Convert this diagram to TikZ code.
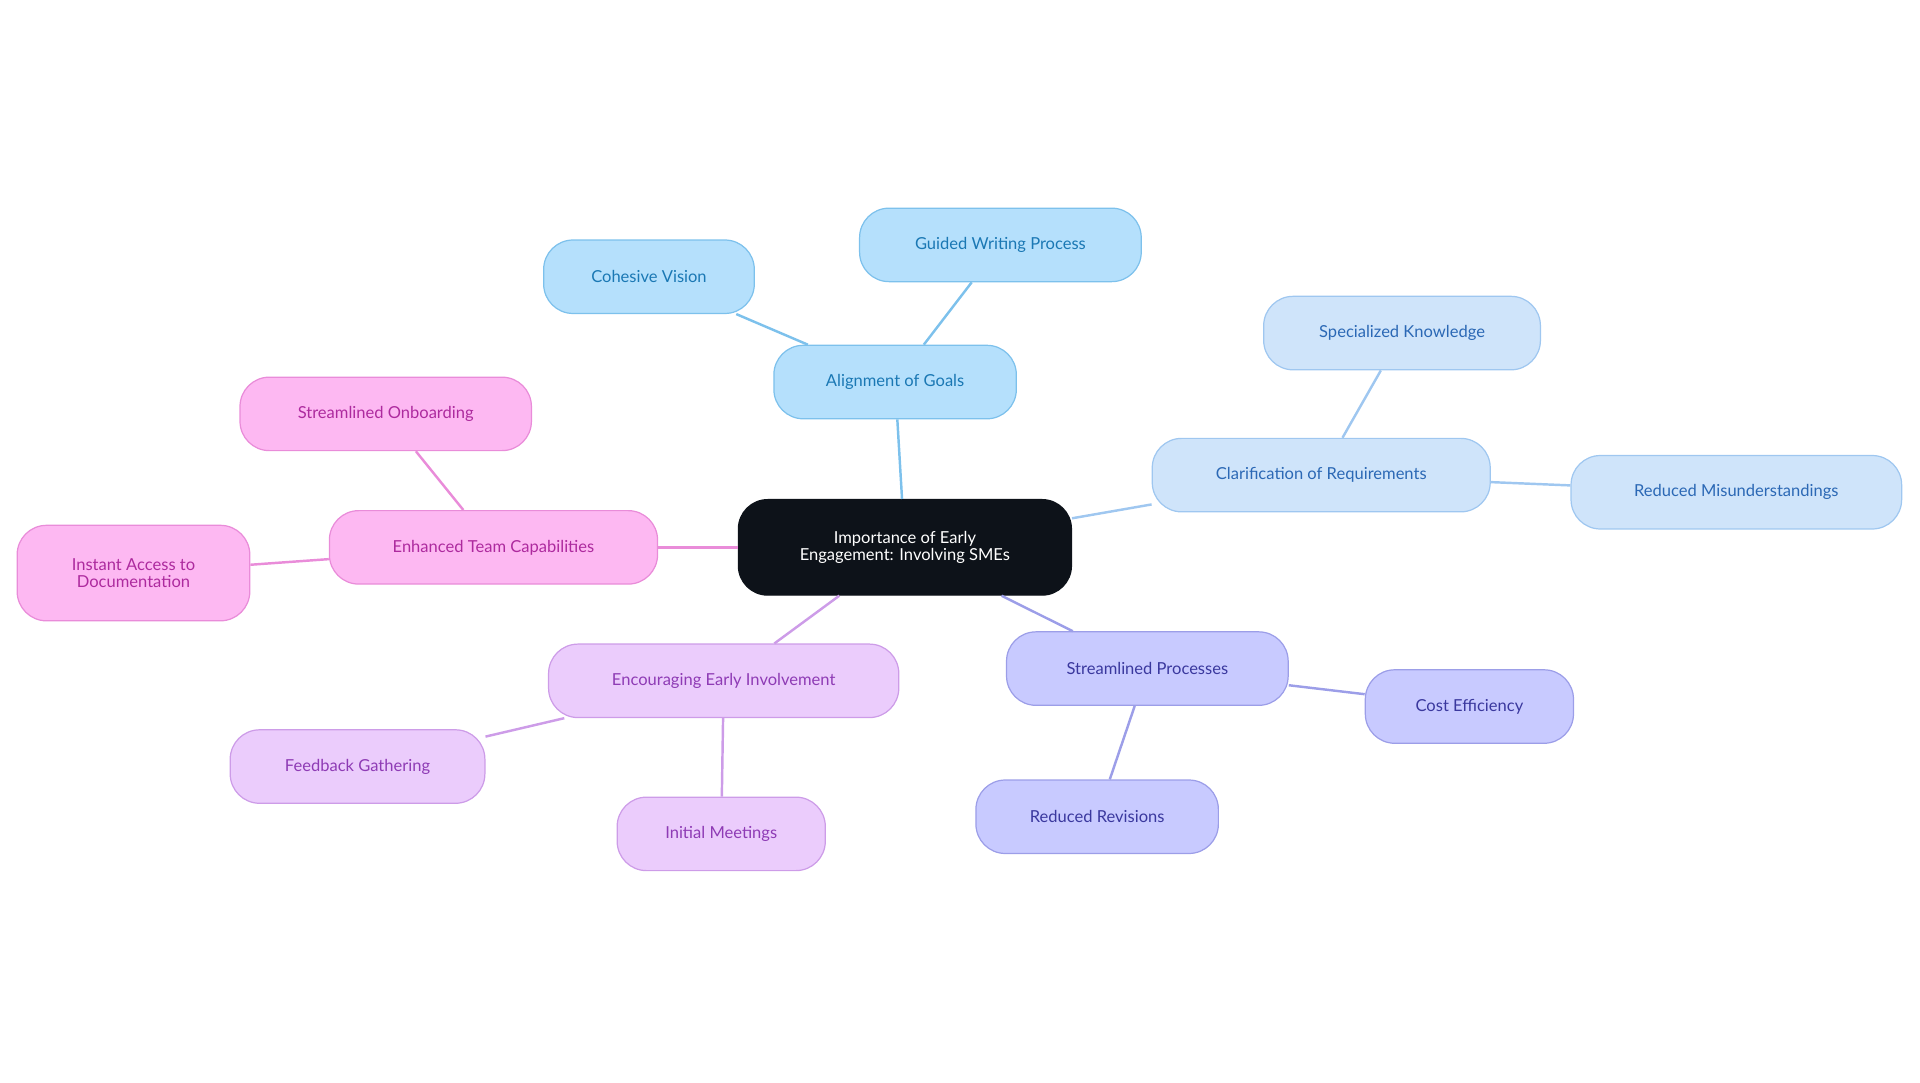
\documentclass[tikz,border=0pt]{standalone}
\usepackage{fontspec}
\setmainfont{Lato}
\usepackage{tikz}
\definecolor{rootfill}{HTML}{0D1219}
\definecolor{goalfill}{HTML}{B5E0FC}\definecolor{goaldraw}{HTML}{7DC1EC}\definecolor{goaltext}{HTML}{1A78B4}
\definecolor{reqfill}{HTML}{CFE4FA}\definecolor{reqdraw}{HTML}{9FC7F0}\definecolor{reqtext}{HTML}{2B68B5}
\definecolor{procfill}{HTML}{C8CAFF}\definecolor{procdraw}{HTML}{9C9EE8}\definecolor{proctext}{HTML}{3A389E}
\definecolor{invfill}{HTML}{EBCCFC}\definecolor{invdraw}{HTML}{CD9CE8}\definecolor{invtext}{HTML}{8E3BB5}
\definecolor{capfill}{HTML}{FDB8F2}\definecolor{capdraw}{HTML}{E98CD9}\definecolor{captext}{HTML}{AD2A9E}
\tikzset{
  box/.style={rounded corners=24pt, minimum height=60pt, inner sep=0pt, align=center, line width=1pt,
    font=\fontsize{13.5}{14}\selectfont},
  goal/.style={box, fill=goalfill, draw=goaldraw, text=goaltext},
  req/.style={box, fill=reqfill, draw=reqdraw, text=reqtext},
  proc/.style={box, fill=procfill, draw=procdraw, text=proctext},
  inv/.style={box, fill=invfill, draw=invdraw, text=invtext},
  capa/.style={box, fill=capfill, draw=capdraw, text=captext},
  link/.style={line width=2pt}
}
\begin{document}
\begin{tikzpicture}[x=1pt,y=-1pt]
\useasboundingbox (0,0) rectangle (1568,884);

% root
\node[box, fill=rootfill, draw=rootfill, text=white, minimum width=272pt, minimum height=78pt] (root) at (739,447) {Importance of Early\\Engagement: Involving SMEs};

% alignment of goals
\node[goal, minimum width=198pt] (goals) at (731,312) {Alignment of Goals};
\node[goal, minimum width=172pt] (vision) at (530,226) {Cohesive Vision};
\node[goal, minimum width=230pt] (guided) at (817,200) {Guided Writing Process};

% clarification
\node[req, minimum width=276pt] (clar) at (1079,388) {Clarification of Requirements};
\node[req, minimum width=226pt] (spec) at (1145,272) {Specialized Knowledge};
\node[req, minimum width=270pt] (misund) at (1418,402) {Reduced Misunderstandings};

% streamlined processes
\node[proc, minimum width=230pt] (proc) at (937,546) {Streamlined Processes};
\node[proc, minimum width=170pt] (cost) at (1200,577) {Cost Efficiency};
\node[proc, minimum width=198pt] (revs) at (896,667) {Reduced Revisions};

% early involvement
\node[inv, minimum width=286pt] (early) at (591,556) {Encouraging Early Involvement};
\node[inv, minimum width=208pt] (feedback) at (292,626) {Feedback Gathering};
\node[inv, minimum width=170pt] (meet) at (589,681) {Initial Meetings};

% team capabilities
\node[capa, minimum width=268pt] (team) at (403,447) {Enhanced Team Capabilities};
\node[capa, minimum width=238pt] (onboard) at (315,338) {Streamlined Onboarding};
\node[capa, minimum width=190pt, minimum height=78pt] (access) at (109,468) {Instant Access to\\Documentation};

% connectors
\draw[link, goaldraw] (root) -- (goals);
\draw[link, goaldraw] (goals) -- (vision);
\draw[link, goaldraw] (goals) -- (guided);
\draw[link, reqdraw] (root) -- (clar);
\draw[link, reqdraw] (clar) -- (spec);
\draw[link, reqdraw] (clar) -- (misund);
\draw[link, procdraw] (root) -- (proc);
\draw[link, procdraw] (proc) -- (cost);
\draw[link, procdraw] (proc) -- (revs);
\draw[link, invdraw] (root) -- (early);
\draw[link, invdraw] (early) -- (feedback);
\draw[link, invdraw] (early) -- (meet);
\draw[link, capdraw] (root) -- (team);
\draw[link, capdraw] (team) -- (onboard);
\draw[link, capdraw] (team) -- (access);
\end{tikzpicture}
\end{document}
